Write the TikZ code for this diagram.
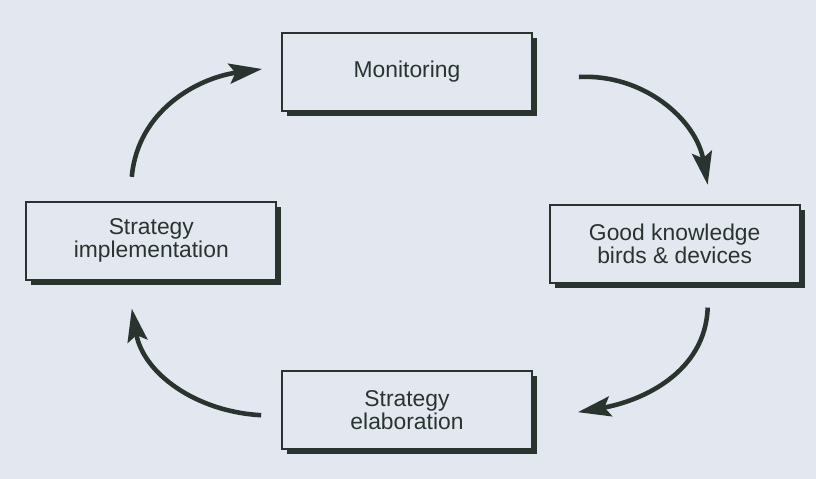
\documentclass[tikz,border=0pt]{standalone}
\usepackage{fontspec}
\setmainfont{Liberation Sans}
\usepackage{tikz}
\usetikzlibrary{arrows.meta,positioning,shadows}

\definecolor{paper}{RGB}{227,231,239}
\definecolor{ink}{RGB}{42,52,47}

\begin{document}
\begin{tikzpicture}[
    x=0.02cm, y=-0.02cm,
    font=\fontsize{13pt}{11.6pt}\selectfont,
    stage/.style={draw=ink, line width=1pt, fill=paper, text=ink, align=center,
        minimum width=5cm, minimum height=1.56cm, inner sep=3pt,
        drop shadow={shadow xshift=0.1cm, shadow yshift=-0.1cm, fill=ink, opacity=1}},
    cycle/.style={-{Stealth[length=0.66cm,width=0.4cm,inset=0.12cm]}, draw=ink, line width=2.6pt}
]
    \fill[paper] (0,0) rectangle (816,479);
    \useasboundingbox (0,0) rectangle (816,479);

    \node[stage] (monitoring) at (407,72) {Monitoring};
    \node[stage, below left=1.78cm and 0.08cm of monitoring] (implement) {Strategy\\implementation};
    \node[stage, below right=1.84cm and 0.32cm of monitoring] (knowledge) {Good knowledge\\birds \& devices};
    \node[stage, below=5.16cm of monitoring] (elaborate) {Strategy\\elaboration};

    \draw[cycle] ([xshift=-0.39cm, yshift=0.48cm]implement.north) to[out=85, in=188] ([xshift=-0.38cm, yshift=0.06cm]monitoring.west);
    \draw[cycle] ([xshift=0.92cm, yshift=-0.1cm]monitoring.east) to[out=3, in=100] ([xshift=0.66cm, yshift=0.38cm]knowledge.north);
    \draw[cycle] ([xshift=0.66cm, yshift=-0.48cm]knowledge.south) to[out=-92, in=10] ([xshift=0.9cm, yshift=-0.05cm]elaborate.east);
    \draw[cycle] ([xshift=-0.4cm, yshift=-0.11cm]elaborate.west) to[out=177, in=-80] ([xshift=-0.39cm, yshift=-0.56cm]implement.south);
\end{tikzpicture}
\end{document}
